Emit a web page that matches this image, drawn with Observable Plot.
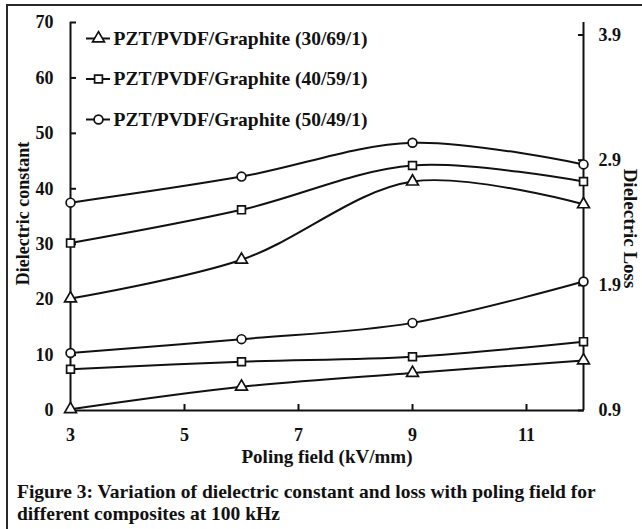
<!DOCTYPE html>
<html>
<head>
<meta charset="utf-8">
<script src="https://cdn.jsdelivr.net/npm/d3@7"></script>
<script src="https://cdn.jsdelivr.net/npm/@observablehq/plot@0.6"></script>
<style>
  html, body { margin: 0; padding: 0; background: #fff; }
  body { width: 642px; height: 529px; position: relative; overflow: hidden; font-family: "Liberation Serif", "Times New Roman", serif; }
  #frame { position: absolute; left: 6px; top: 4px; width: 660px; height: 560px; border: 2px solid #2a2a2a; box-sizing: border-box; }
  #chart { position: absolute; left: 0; top: 0; }
  #caption { position: absolute; left: 17px; top: 481px; font-weight: bold; font-size: 19.5px; line-height: 22px; color: #111; white-space: nowrap; }
</style>
</head>
<body>
<div id="frame"></div>
<div id="chart"></div>
<div id="caption">Figure 3: Variation of dielectric constant and loss with poling field for<br>different composites at 100 kHz</div>
<script>
// ---- data ----
const polingField = [3, 6, 9, 12];
const seriesNames = ["PZT/PVDF/Graphite (30/69/1)", "PZT/PVDF/Graphite (40/59/1)", "PZT/PVDF/Graphite (50/49/1)"];
const seriesSymbols = ["triangle", "square", "circle"];
// dielectric constant (left axis)
const constant30 = [20.2, 27.2, 41.3, 37.2];
const constant40 = [30.2, 36.2, 44.2, 41.3];
const constant50 = [37.5, 42.2, 48.3, 44.4];
// dielectric loss (right axis)
const loss30 = [0.91, 1.09, 1.20, 1.30];
const loss40 = [1.23, 1.29, 1.33, 1.45];
const loss50 = [1.36, 1.47, 1.60, 1.93];
const xTicks = [3, 5, 7, 9, 11];
const leftTicks = [0, 10, 20, 30, 40, 50, 60, 70];
const rightTicks = [0.9, 1.9, 2.9, 3.9];
const xLabel = "Poling field (kV/mm)";
const leftLabel = "Dielectric constant";
const rightLabel = "Dielectric Loss";

// ---- build ----
const leftMax = 70, rightMin = 0.9, rightMax = 4.0;
const toLeft = v => (v - rightMin) * leftMax / (rightMax - rightMin);
const constants = [constant30, constant40, constant50];
const losses = [loss30, loss40, loss50];
const rows = [];
seriesNames.forEach((name, i) => {
  polingField.forEach((x, j) => {
    rows.push({key: name + "-c", sym: seriesSymbols[i], x, y: constants[i][j]});
    rows.push({key: name + "-l", sym: seriesSymbols[i], x, y: toLeft(losses[i][j])});
  });
});
const legendRows = seriesNames.map((name, i) => ({name, sym: seriesSymbols[i], i}));
const fontMain = "'Liberation Serif', 'Times New Roman', serif";
// legend row offsets measured in pixels from top of the frame, converted to data units
const pxPerY = 388 / leftMax, pxPerX = 513 / 9;
const legY = d => leftMax - (16 + d.i * 40.5) / pxPerY;

const plot = Plot.plot({
  width: 642,
  height: 470,
  marginLeft: 70,
  marginRight: 59,
  marginTop: 22,
  marginBottom: 60,
  style: {fontFamily: fontMain, fontWeight: "bold", fontSize: "18px", color: "#111", background: "transparent"},
  x: {domain: [3, 12], axis: null},
  y: {domain: [0, leftMax], axis: null},
  marks: [
    Plot.ruleX([3, 12], {y1: 0, y2: leftMax, stroke: "#111", strokeWidth: 2}),
    Plot.ruleY([0], {x1: 3, x2: 12, stroke: "#111", strokeWidth: 2}),
    Plot.axisY({anchor: "left", ticks: leftTicks, tickSize: -6, tickPadding: 23, strokeWidth: 2, fontSize: 18, fontWeight: "bold", label: null}),
    Plot.axisY({anchor: "right", ticks: rightTicks.map(toLeft), tickFormat: d => (rightMin + d * (rightMax - rightMin) / leftMax).toFixed(1), tickSize: -6, tickPadding: 21, strokeWidth: 2, fontSize: 18, fontWeight: "bold", label: null}),
    Plot.axisX({anchor: "bottom", ticks: xTicks, tickSize: -6, tickPadding: 24, strokeWidth: 2, fontSize: 18, fontWeight: "bold", label: null}),
    Plot.line(rows, {x: "x", y: "y", z: "key", curve: "catmull-rom", stroke: "#111", strokeWidth: 2}),
    Plot.dot(rows, {x: "x", y: "y", symbol: "sym", r: 4.4, fill: "white", stroke: "#111", strokeWidth: 1.7}),
    // legend
    Plot.ruleY(legendRows, {y: legY, x1: 3 + 16 / pxPerX, x2: 3 + 40 / pxPerX, stroke: "#111", strokeWidth: 2}),
    Plot.dot(legendRows, {y: legY, x: 3 + 28 / pxPerX, symbol: "sym", r: 4.4, fill: "white", stroke: "#111", strokeWidth: 1.7}),
    Plot.text(legendRows, {y: legY, x: 3 + 43 / pxPerX, text: "name", textAnchor: "start", fontSize: 19.5, fontWeight: "bold", fill: "#111"}),
    // axis titles
    Plot.text([xLabel], {frameAnchor: "bottom", textAnchor: "middle", dy: 52, fontSize: 19, fontWeight: "bold", fill: "#111"}),
    Plot.text([leftLabel], {frameAnchor: "left", textAnchor: "middle", rotate: -90, dx: -47, dy: -3, fontSize: 18, fontWeight: "bold", fill: "#111"}),
    Plot.text([rightLabel], {frameAnchor: "right", textAnchor: "middle", rotate: 90, dx: 47, dy: 12, fontSize: 19, fontWeight: "bold", fill: "#111"})
  ]
});
document.getElementById("chart").appendChild(plot);
</script>
</body>
</html>
